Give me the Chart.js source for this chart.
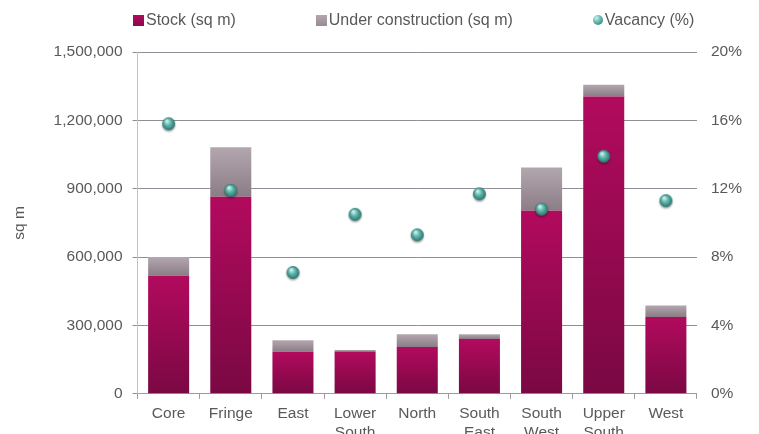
<!DOCTYPE html>
<html>
<head>
<meta charset="utf-8">
<script src="https://cdn.jsdelivr.net/npm/chart.js@4/dist/chart.umd.min.js"></script>
<style>
  body { margin: 0; overflow: hidden; background: #fff; }
  #wrap { position: relative; width: 759px; height: 451px; }
  #myChart { display: block; }
  #legend {
    position: absolute; left: 133px; top: 11px;
    display: flex; gap: 80px;
    font: 16px "Liberation Sans", Arial, sans-serif; color: #595959;
  }
  #legend .item { display: flex; align-items: center; white-space: nowrap; }
  #legend .swatch { width: 11px; height: 11px; margin-right: 2px; }
  #legend .dot { width: 10px; height: 10px; border-radius: 50%; margin-right: 2px; }
</style>
</head>
<body>
<div id="wrap">
  <canvas id="myChart" width="759" height="451"></canvas>
  <div id="legend"></div>
</div>
<script>
const categories = ['Core', 'Fringe', 'East', ['Lower', 'South'], 'North', ['South', 'East'], ['South', 'West'], ['Upper', 'South'], 'West'];
const stock = [518000, 865000, 184000, 186000, 205000, 240000, 803000, 1305000, 337000];
const underConstruction = [82000, 217000, 51000, 6000, 56000, 21000, 190000, 51000, 51000];
const vacancy = [15.8, 11.9, 7.1, 10.5, 9.3, 11.7, 10.8, 13.9, 11.3];

const font = '"Liberation Sans", Arial, sans-serif';
const textColor = '#595959';

// vertical gradient running over one bar segment
function barFill(lo, hi, light, dark) {
  return (c) => {
    const y = c.chart.scales.y;
    if (c.dataIndex === undefined || !y) return light;
    const top = y.getPixelForValue(hi(c.dataIndex));
    const bottom = y.getPixelForValue(lo(c.dataIndex));
    if (!isFinite(top) || !isFinite(bottom)) return light;
    const g = c.chart.ctx.createLinearGradient(0, top, 0, bottom);
    g.addColorStop(0, light);
    g.addColorStop(1, dark);
    return g;
  };
}

// little teal sphere used for the vacancy points
function sphere(r, pad) {
  const s = document.createElement('canvas');
  s.width = s.height = 2 * (r + pad);
  const g = s.getContext('2d');
  const c = r + pad;
  g.shadowColor = 'rgba(0,0,0,0.35)';
  g.shadowBlur = 2;
  g.shadowOffsetY = 1.5;
  const grad = g.createRadialGradient(c - r * 0.3, c - r * 0.45, r * 0.1, c, c, r);
  grad.addColorStop(0, '#cdf2ec');
  grad.addColorStop(0.45, '#5fb6ac');
  grad.addColorStop(1, '#2b736c');
  g.fillStyle = grad;
  g.beginPath();
  g.arc(c, c, r, 0, Math.PI * 2);
  g.fill();
  return s;
}

const data = {
  labels: categories,
  datasets: [
    {
      type: 'line',
      label: 'Vacancy (%)',
      data: vacancy,
      yAxisID: 'y2',
      showLine: false,
      pointStyle: sphere(6.5, 3),
      order: 0,
      legendIcon: 'dot',
    },
    {
      label: 'Stock (sq m)',
      data: stock,
      backgroundColor: barFill(i => 0, i => stock[i], '#b20a5e', '#7a0843'),
      order: 1,
      legendIcon: 'linear-gradient(#b20a5e, #8a0a4c)',
    },
    {
      label: 'Under construction (sq m)',
      data: underConstruction,
      backgroundColor: barFill(i => stock[i], i => stock[i] + underConstruction[i], '#b3a7af', '#8b7c85'),
      order: 1,
      legendIcon: 'linear-gradient(#b3a7af, #988a93)',
    },
  ],
};

const config = {
  type: 'bar',
  data: data,
  options: {
    responsive: false,
    animation: false,
    barPercentage: 0.66,
    categoryPercentage: 1,
    layout: { padding: { top: 52, left: 2, right: 3, bottom: 3 } },
    plugins: {
      legend: { display: false },
      tooltip: { enabled: false },
    },
    scales: {
      x: {
        stacked: true,
        grid: { drawOnChartArea: false, tickLength: 5, color: '#9a9aa0' },
        border: { color: '#9a9aa0' },
        ticks: { color: textColor, font: { family: font, size: 15.5 }, padding: 6, maxRotation: 0, autoSkip: false },
      },
      y: {
        stacked: true,
        min: 0,
        max: 1500000,
        ticks: {
          stepSize: 300000,
          color: textColor,
          font: { family: font, size: 15.5 },
          padding: 10,
          callback: v => v.toLocaleString('en-US'),
        },
        grid: { color: '#8e8e96', tickLength: 5 },
        border: { color: '#c2c2c8' },
        title: {
          display: true,
          text: 'sq m',
          color: textColor,
          font: { family: font, size: 15.5 },
          padding: { top: 8, bottom: 15 },
        },
      },
      y2: {
        position: 'right',
        min: 0,
        max: 20,
        ticks: {
          stepSize: 4,
          color: textColor,
          font: { family: font, size: 15.5 },
          padding: 14,
          callback: v => v + '%',
        },
        grid: { display: false, drawTicks: false },
        border: { display: false },
      },
    },
  },
};

const myChart = new Chart(document.getElementById('myChart'), config);

// html legend, in the order the reference shows
const legend = document.getElementById('legend');
[1, 2, 0].forEach(i => {
  const ds = data.datasets[i];
  const item = document.createElement('div');
  item.className = 'item';
  const icon = document.createElement('span');
  if (ds.legendIcon === 'dot') {
    icon.className = 'dot';
    icon.style.background = 'radial-gradient(circle at 35% 30%, #cdf2ec, #5fb6ac 45%, #2b736c)';
  } else {
    icon.className = 'swatch';
    icon.style.background = ds.legendIcon;
  }
  const txt = document.createElement('span');
  txt.textContent = ds.label;
  item.appendChild(icon);
  item.appendChild(txt);
  legend.appendChild(item);
});
</script>
</body>
</html>
